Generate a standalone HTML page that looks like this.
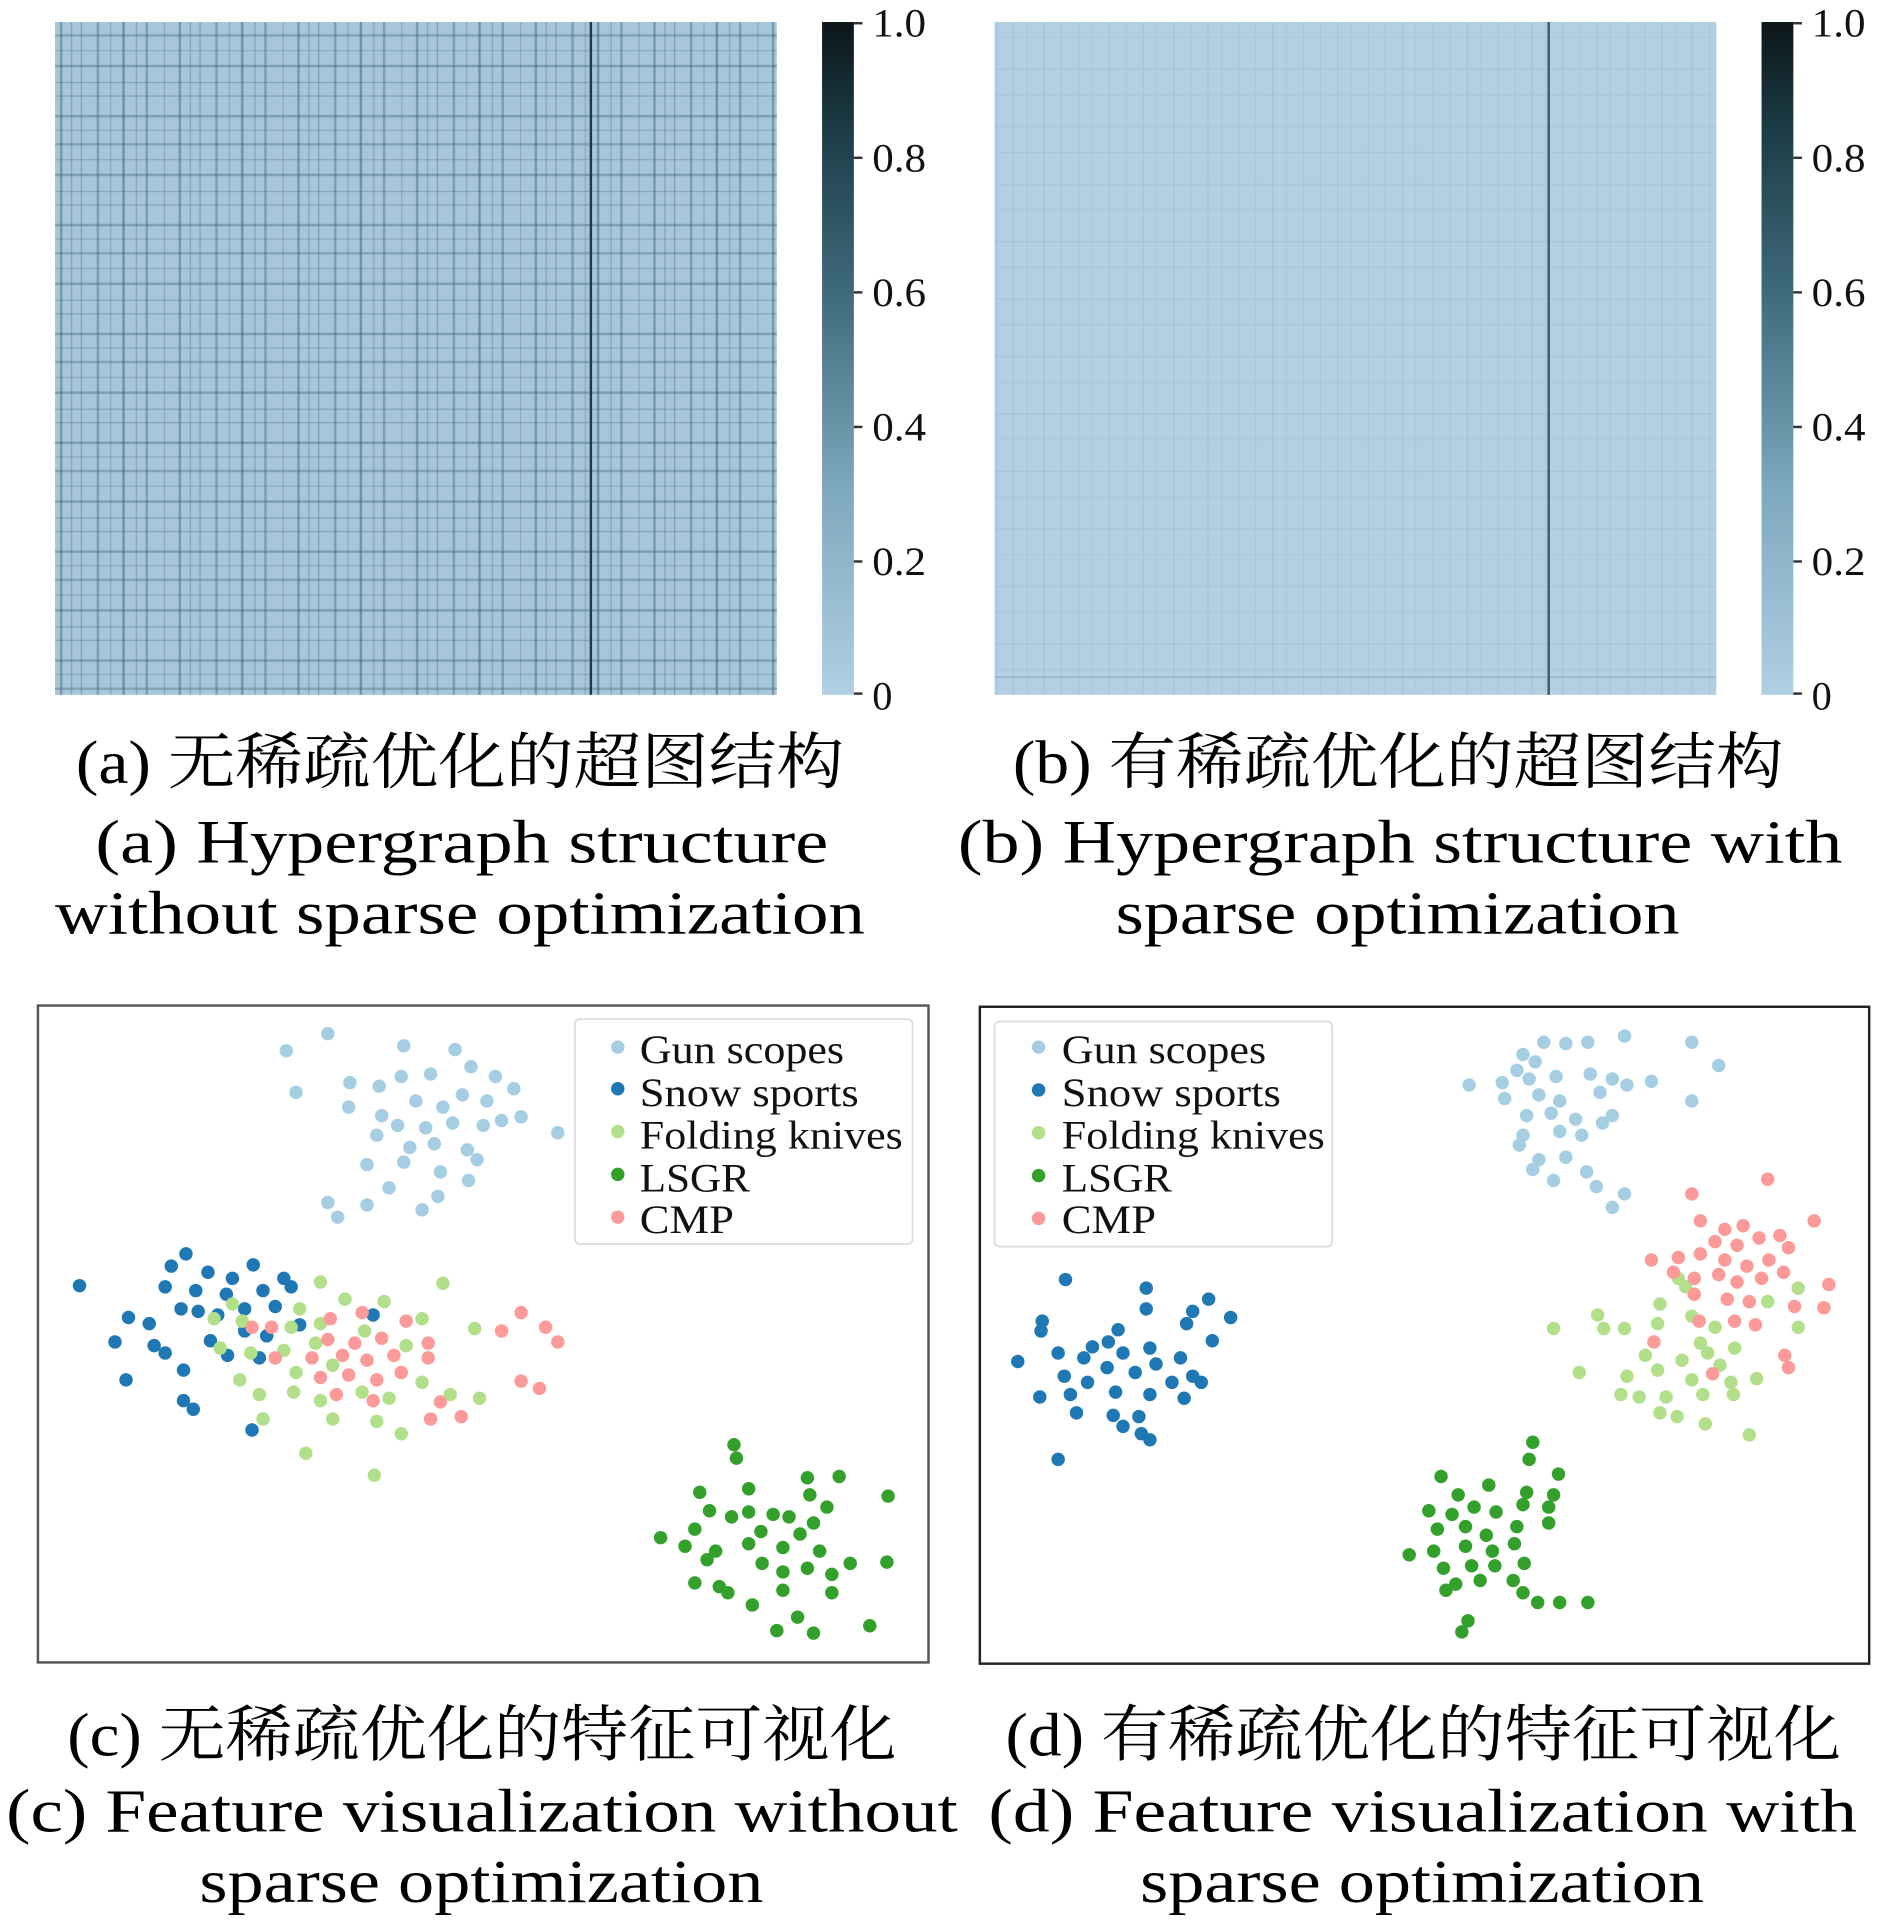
<!DOCTYPE html>
<html><head><meta charset="utf-8"><style>
html,body{margin:0;padding:0;background:#fff;}
svg{display:block}
.cap{font-family:"Liberation Serif","Noto Serif CJK SC",serif;font-size:50px;fill:#000}
.tk{font-family:"Liberation Serif",serif;font-size:33px;fill:#111}
.lg{font-family:"Liberation Serif",serif;font-size:33px;fill:#111}
</style></head><body>
<svg width="1890" height="1923" viewBox="0 0 1545 1572" xmlns="http://www.w3.org/2000/svg">
<defs>
<linearGradient id="cb" x1="0" y1="1" x2="0" y2="0">
<stop offset="0" stop-color="#b0cfe3"/><stop offset="0.3" stop-color="#7fa9be"/><stop offset="0.6" stop-color="#3e6a7b"/><stop offset="0.85" stop-color="#1b3a44"/><stop offset="1" stop-color="#0b1619"/>
</linearGradient>
<pattern id="pv" width="97" height="10" patternUnits="userSpaceOnUse">
<rect x="3" width="2" height="10" fill="#2f5263" opacity=".45"/><rect x="14" width="1" height="10" fill="#2f5263" opacity=".3"/><rect x="22" width="2" height="10" fill="#2f5263" opacity=".35"/><rect x="37" width="1" height="10" fill="#2f5263" opacity=".25"/><rect x="49" width="2" height="10" fill="#2f5263" opacity=".4"/><rect x="58" width="1" height="10" fill="#2f5263" opacity=".3"/><rect x="66" width="1" height="10" fill="#2f5263" opacity=".35"/><rect x="79" width="2" height="10" fill="#2f5263" opacity=".35"/><rect x="90" width="1" height="10" fill="#2f5263" opacity=".25"/>
</pattern>
<pattern id="ph" width="10" height="89" patternUnits="userSpaceOnUse">
<rect y="5" height="2" width="10" fill="#2f5263" opacity=".35"/><rect y="17" height="1" width="10" fill="#2f5263" opacity=".25"/><rect y="28" height="2" width="10" fill="#2f5263" opacity=".3"/><rect y="41" height="1" width="10" fill="#2f5263" opacity=".25"/><rect y="53" height="2" width="10" fill="#2f5263" opacity=".35"/><rect y="67" height="1" width="10" fill="#2f5263" opacity=".3"/><rect y="78" height="1" width="10" fill="#2f5263" opacity=".3"/>
</pattern>
<pattern id="pv2" width="53" height="10" patternUnits="userSpaceOnUse">
<rect x="5" width="1" height="10" fill="#6d8fa3" opacity=".2"/><rect x="19" width="1" height="10" fill="#6d8fa3" opacity=".15"/><rect x="33" width="1" height="10" fill="#6d8fa3" opacity=".2"/><rect x="44" width="1" height="10" fill="#6d8fa3" opacity=".12"/>
</pattern>
<pattern id="ph2" width="10" height="47" patternUnits="userSpaceOnUse">
<rect y="9" height="1" width="10" fill="#6d8fa3" opacity=".15"/><rect y="30" height="1" width="10" fill="#6d8fa3" opacity=".12"/>
</pattern>
</defs>
<!-- heatmap a -->
<rect x="45" y="18" width="590" height="550" fill="#a7c6d9"/>
<rect x="45" y="18" width="590" height="550" fill="url(#pv)"/>
<rect x="45" y="18" width="590" height="550" fill="url(#ph)"/>
<rect x="482" y="18" width="2" height="550" fill="#1e3a47"/>
<rect x="672" y="18" width="26" height="550" fill="url(#cb)"/>
<g stroke="#333" stroke-width="2"><line x1="698" y1="19" x2="705" y2="19"/><line x1="698" y1="129" x2="705" y2="129"/><line x1="698" y1="239" x2="705" y2="239"/><line x1="698" y1="349" x2="705" y2="349"/><line x1="698" y1="459" x2="705" y2="459"/><line x1="698" y1="567" x2="705" y2="567"/></g>
<g class="tk"><text x="713" y="30" textLength="44" lengthAdjust="spacingAndGlyphs">1.0</text><text x="713" y="140" textLength="44" lengthAdjust="spacingAndGlyphs">0.8</text><text x="713" y="250" textLength="44" lengthAdjust="spacingAndGlyphs">0.6</text><text x="713" y="360" textLength="44" lengthAdjust="spacingAndGlyphs">0.4</text><text x="713" y="470" textLength="44" lengthAdjust="spacingAndGlyphs">0.2</text><text x="713" y="580">0</text></g>
<!-- heatmap b -->
<rect x="813" y="18" width="590" height="550" fill="#b2d0e2"/>
<rect x="813" y="18" width="590" height="550" fill="url(#pv2)"/>
<rect x="813" y="18" width="590" height="550" fill="url(#ph2)"/>
<rect x="813" y="553" width="590" height="1" fill="#6d8fa3" opacity=".5"/>
<rect x="1265" y="18" width="2" height="550" fill="#3e5a66"/>
<rect x="1440" y="18" width="26" height="550" fill="url(#cb)"/>
<g stroke="#333" stroke-width="2"><line x1="1466" y1="19" x2="1473" y2="19"/><line x1="1466" y1="129" x2="1473" y2="129"/><line x1="1466" y1="239" x2="1473" y2="239"/><line x1="1466" y1="349" x2="1473" y2="349"/><line x1="1466" y1="459" x2="1473" y2="459"/><line x1="1466" y1="567" x2="1473" y2="567"/></g>
<g class="tk"><text x="1481" y="30" textLength="44" lengthAdjust="spacingAndGlyphs">1.0</text><text x="1481" y="140" textLength="44" lengthAdjust="spacingAndGlyphs">0.8</text><text x="1481" y="250" textLength="44" lengthAdjust="spacingAndGlyphs">0.6</text><text x="1481" y="360" textLength="44" lengthAdjust="spacingAndGlyphs">0.4</text><text x="1481" y="470" textLength="44" lengthAdjust="spacingAndGlyphs">0.2</text><text x="1481" y="580">0</text></g>
<!-- captions top -->
<text class="cap" x="62" y="640" textLength="628" lengthAdjust="spacingAndGlyphs">(a) 无稀疏优化的超图结构</text>
<text class="cap" x="78" y="705" textLength="599" lengthAdjust="spacingAndGlyphs">(a) Hypergraph structure</text>
<text class="cap" x="45" y="763" textLength="662" lengthAdjust="spacingAndGlyphs">without sparse optimization</text>
<text class="cap" x="828" y="640" textLength="630" lengthAdjust="spacingAndGlyphs">(b) 有稀疏优化的超图结构</text>
<text class="cap" x="783" y="705" textLength="723" lengthAdjust="spacingAndGlyphs">(b) Hypergraph structure with</text>
<text class="cap" x="912" y="763" textLength="461" lengthAdjust="spacingAndGlyphs">sparse optimization</text>
<!-- scatter c -->
<rect x="31" y="822" width="728" height="537" fill="#fff" stroke="#555" stroke-width="2"/>
<g fill="#a6cee3">
<circle cx="234" cy="859" r="5.5"/><circle cx="268" cy="845" r="5.5"/><circle cx="330" cy="855" r="5.5"/><circle cx="372" cy="858" r="5.5"/><circle cx="242" cy="893" r="5.5"/><circle cx="286" cy="885" r="5.5"/><circle cx="310" cy="888" r="5.5"/><circle cx="328" cy="880" r="5.5"/><circle cx="352" cy="878" r="5.5"/><circle cx="385" cy="872" r="5.5"/><circle cx="405" cy="880" r="5.5"/><circle cx="420" cy="890" r="5.5"/><circle cx="285" cy="905" r="5.5"/><circle cx="312" cy="912" r="5.5"/><circle cx="340" cy="900" r="5.5"/><circle cx="362" cy="905" r="5.5"/><circle cx="378" cy="895" r="5.5"/><circle cx="398" cy="900" r="5.5"/><circle cx="426" cy="913" r="5.5"/><circle cx="308" cy="928" r="5.5"/><circle cx="325" cy="920" r="5.5"/><circle cx="348" cy="922" r="5.5"/><circle cx="370" cy="918" r="5.5"/><circle cx="395" cy="920" r="5.5"/><circle cx="410" cy="916" r="5.5"/><circle cx="456" cy="926" r="5.5"/><circle cx="335" cy="938" r="5.5"/><circle cx="355" cy="935" r="5.5"/><circle cx="382" cy="940" r="5.5"/><circle cx="300" cy="952" r="5.5"/><circle cx="330" cy="950" r="5.5"/><circle cx="360" cy="958" r="5.5"/><circle cx="390" cy="948" r="5.5"/><circle cx="383" cy="965" r="5.5"/><circle cx="318" cy="971" r="5.5"/><circle cx="358" cy="978" r="5.5"/><circle cx="268" cy="983" r="5.5"/><circle cx="300" cy="985" r="5.5"/><circle cx="276" cy="995" r="5.5"/><circle cx="345" cy="989" r="5.5"/>
</g>
<g fill="#1f78b4">
<circle cx="65" cy="1051" r="5.5"/><circle cx="152" cy="1025" r="5.5"/><circle cx="140" cy="1035" r="5.5"/><circle cx="170" cy="1040" r="5.5"/><circle cx="190" cy="1045" r="5.5"/><circle cx="207" cy="1034" r="5.5"/><circle cx="232" cy="1045" r="5.5"/><circle cx="135" cy="1052" r="5.5"/><circle cx="160" cy="1055" r="5.5"/><circle cx="185" cy="1058" r="5.5"/><circle cx="215" cy="1055" r="5.5"/><circle cx="238" cy="1052" r="5.5"/><circle cx="148" cy="1070" r="5.5"/><circle cx="162" cy="1072" r="5.5"/><circle cx="178" cy="1075" r="5.5"/><circle cx="200" cy="1070" r="5.5"/><circle cx="225" cy="1068" r="5.5"/><circle cx="105" cy="1077" r="5.5"/><circle cx="122" cy="1082" r="5.5"/><circle cx="200" cy="1088" r="5.5"/><circle cx="218" cy="1092" r="5.5"/><circle cx="245" cy="1083" r="5.5"/><circle cx="94" cy="1097" r="5.5"/><circle cx="126" cy="1100" r="5.5"/><circle cx="172" cy="1096" r="5.5"/><circle cx="135" cy="1106" r="5.5"/><circle cx="186" cy="1108" r="5.5"/><circle cx="212" cy="1110" r="5.5"/><circle cx="150" cy="1120" r="5.5"/><circle cx="103" cy="1128" r="5.5"/><circle cx="150" cy="1145" r="5.5"/><circle cx="158" cy="1152" r="5.5"/><circle cx="206" cy="1169" r="5.5"/><circle cx="305" cy="1075" r="5.5"/>
</g>
<g fill="#b2df8a">
<circle cx="262" cy="1048" r="5.5"/><circle cx="362" cy="1049" r="5.5"/><circle cx="190" cy="1066" r="5.5"/><circle cx="245" cy="1070" r="5.5"/><circle cx="282" cy="1062" r="5.5"/><circle cx="314" cy="1064" r="5.5"/><circle cx="175" cy="1078" r="5.5"/><circle cx="198" cy="1080" r="5.5"/><circle cx="238" cy="1085" r="5.5"/><circle cx="262" cy="1082" r="5.5"/><circle cx="298" cy="1088" r="5.5"/><circle cx="345" cy="1078" r="5.5"/><circle cx="388" cy="1086" r="5.5"/><circle cx="180" cy="1102" r="5.5"/><circle cx="205" cy="1106" r="5.5"/><circle cx="232" cy="1104" r="5.5"/><circle cx="258" cy="1098" r="5.5"/><circle cx="332" cy="1100" r="5.5"/><circle cx="196" cy="1128" r="5.5"/><circle cx="242" cy="1122" r="5.5"/><circle cx="272" cy="1116" r="5.5"/><circle cx="345" cy="1130" r="5.5"/><circle cx="212" cy="1140" r="5.5"/><circle cx="240" cy="1138" r="5.5"/><circle cx="262" cy="1145" r="5.5"/><circle cx="296" cy="1138" r="5.5"/><circle cx="318" cy="1143" r="5.5"/><circle cx="368" cy="1140" r="5.5"/><circle cx="392" cy="1143" r="5.5"/><circle cx="215" cy="1160" r="5.5"/><circle cx="272" cy="1160" r="5.5"/><circle cx="308" cy="1162" r="5.5"/><circle cx="328" cy="1172" r="5.5"/><circle cx="250" cy="1188" r="5.5"/><circle cx="306" cy="1206" r="5.5"/>
</g>
<g fill="#fb9a99">
<circle cx="426" cy="1073" r="5.5"/><circle cx="206" cy="1085" r="5.5"/><circle cx="222" cy="1085" r="5.5"/><circle cx="270" cy="1078" r="5.5"/><circle cx="296" cy="1073" r="5.5"/><circle cx="332" cy="1080" r="5.5"/><circle cx="410" cy="1088" r="5.5"/><circle cx="446" cy="1085" r="5.5"/><circle cx="268" cy="1095" r="5.5"/><circle cx="290" cy="1098" r="5.5"/><circle cx="312" cy="1094" r="5.5"/><circle cx="350" cy="1098" r="5.5"/><circle cx="456" cy="1097" r="5.5"/><circle cx="255" cy="1110" r="5.5"/><circle cx="280" cy="1108" r="5.5"/><circle cx="300" cy="1112" r="5.5"/><circle cx="322" cy="1108" r="5.5"/><circle cx="350" cy="1110" r="5.5"/><circle cx="262" cy="1126" r="5.5"/><circle cx="285" cy="1124" r="5.5"/><circle cx="308" cy="1128" r="5.5"/><circle cx="328" cy="1122" r="5.5"/><circle cx="275" cy="1140" r="5.5"/><circle cx="305" cy="1145" r="5.5"/><circle cx="360" cy="1146" r="5.5"/><circle cx="426" cy="1129" r="5.5"/><circle cx="441" cy="1135" r="5.5"/><circle cx="352" cy="1160" r="5.5"/><circle cx="377" cy="1158" r="5.5"/><circle cx="225" cy="1110" r="5.5"/>
</g>
<g fill="#33a02c">
<circle cx="600" cy="1181" r="5.5"/><circle cx="602" cy="1192" r="5.5"/><circle cx="660" cy="1208" r="5.5"/><circle cx="686" cy="1207" r="5.5"/><circle cx="572" cy="1220" r="5.5"/><circle cx="612" cy="1217" r="5.5"/><circle cx="662" cy="1222" r="5.5"/><circle cx="726" cy="1223" r="5.5"/><circle cx="580" cy="1235" r="5.5"/><circle cx="598" cy="1240" r="5.5"/><circle cx="612" cy="1236" r="5.5"/><circle cx="632" cy="1238" r="5.5"/><circle cx="645" cy="1240" r="5.5"/><circle cx="676" cy="1232" r="5.5"/><circle cx="568" cy="1250" r="5.5"/><circle cx="622" cy="1252" r="5.5"/><circle cx="654" cy="1254" r="5.5"/><circle cx="665" cy="1245" r="5.5"/><circle cx="540" cy="1257" r="5.5"/><circle cx="560" cy="1264" r="5.5"/><circle cx="585" cy="1268" r="5.5"/><circle cx="612" cy="1262" r="5.5"/><circle cx="640" cy="1265" r="5.5"/><circle cx="670" cy="1268" r="5.5"/><circle cx="578" cy="1275" r="5.5"/><circle cx="623" cy="1278" r="5.5"/><circle cx="640" cy="1285" r="5.5"/><circle cx="660" cy="1282" r="5.5"/><circle cx="680" cy="1287" r="5.5"/><circle cx="695" cy="1278" r="5.5"/><circle cx="725" cy="1277" r="5.5"/><circle cx="568" cy="1294" r="5.5"/><circle cx="588" cy="1297" r="5.5"/><circle cx="595" cy="1302" r="5.5"/><circle cx="640" cy="1300" r="5.5"/><circle cx="680" cy="1302" r="5.5"/><circle cx="615" cy="1312" r="5.5"/><circle cx="652" cy="1322" r="5.5"/><circle cx="635" cy="1333" r="5.5"/><circle cx="665" cy="1335" r="5.5"/><circle cx="711" cy="1329" r="5.5"/>
</g>
<rect x="470" y="833" width="276" height="184" rx="4" fill="#fff" fill-opacity=".85" stroke="#ddd" stroke-width="1.5"/>
<circle cx="505" cy="856" r="5.5" fill="#a6cee3"/><circle cx="505" cy="890" r="5.5" fill="#1f78b4"/><circle cx="505" cy="925" r="5.5" fill="#b2df8a"/><circle cx="505" cy="960" r="5.5" fill="#33a02c"/><circle cx="505" cy="995" r="5.5" fill="#fb9a99"/>
<g class="lg"><text x="523" y="869" textLength="167" lengthAdjust="spacingAndGlyphs">Gun scopes</text><text x="523" y="904" textLength="179" lengthAdjust="spacingAndGlyphs">Snow sports</text><text x="523" y="939" textLength="215" lengthAdjust="spacingAndGlyphs">Folding knives</text><text x="523" y="974" textLength="90" lengthAdjust="spacingAndGlyphs">LSGR</text><text x="523" y="1008" textLength="77" lengthAdjust="spacingAndGlyphs">CMP</text></g>
<!-- scatter d -->
<rect x="801" y="823" width="727" height="537" fill="#fff" stroke="#222" stroke-width="2"/>
<g fill="#a6cee3">
<circle cx="1328" cy="847" r="5.5"/><circle cx="1383" cy="852" r="5.5"/><circle cx="1245" cy="862" r="5.5"/><circle cx="1262" cy="852" r="5.5"/><circle cx="1280" cy="853" r="5.5"/><circle cx="1298" cy="852" r="5.5"/><circle cx="1240" cy="875" r="5.5"/><circle cx="1255" cy="868" r="5.5"/><circle cx="1405" cy="871" r="5.5"/><circle cx="1201" cy="887" r="5.5"/><circle cx="1228" cy="885" r="5.5"/><circle cx="1250" cy="882" r="5.5"/><circle cx="1272" cy="880" r="5.5"/><circle cx="1300" cy="878" r="5.5"/><circle cx="1318" cy="882" r="5.5"/><circle cx="1350" cy="884" r="5.5"/><circle cx="1230" cy="898" r="5.5"/><circle cx="1258" cy="895" r="5.5"/><circle cx="1275" cy="900" r="5.5"/><circle cx="1308" cy="893" r="5.5"/><circle cx="1330" cy="887" r="5.5"/><circle cx="1383" cy="900" r="5.5"/><circle cx="1248" cy="912" r="5.5"/><circle cx="1268" cy="910" r="5.5"/><circle cx="1288" cy="915" r="5.5"/><circle cx="1318" cy="912" r="5.5"/><circle cx="1245" cy="928" r="5.5"/><circle cx="1275" cy="925" r="5.5"/><circle cx="1293" cy="928" r="5.5"/><circle cx="1310" cy="918" r="5.5"/><circle cx="1242" cy="936" r="5.5"/><circle cx="1258" cy="948" r="5.5"/><circle cx="1280" cy="946" r="5.5"/><circle cx="1253" cy="956" r="5.5"/><circle cx="1270" cy="965" r="5.5"/><circle cx="1297" cy="958" r="5.5"/><circle cx="1305" cy="970" r="5.5"/><circle cx="1328" cy="976" r="5.5"/><circle cx="1318" cy="987" r="5.5"/>
</g>
<g fill="#1f78b4">
<circle cx="871" cy="1046" r="5.5"/><circle cx="937" cy="1053" r="5.5"/><circle cx="852" cy="1080" r="5.5"/><circle cx="937" cy="1070" r="5.5"/><circle cx="988" cy="1062" r="5.5"/><circle cx="975" cy="1072" r="5.5"/><circle cx="1006" cy="1077" r="5.5"/><circle cx="851" cy="1088" r="5.5"/><circle cx="914" cy="1087" r="5.5"/><circle cx="970" cy="1082" r="5.5"/><circle cx="991" cy="1096" r="5.5"/><circle cx="893" cy="1101" r="5.5"/><circle cx="906" cy="1097" r="5.5"/><circle cx="918" cy="1106" r="5.5"/><circle cx="940" cy="1102" r="5.5"/><circle cx="865" cy="1106" r="5.5"/><circle cx="886" cy="1110" r="5.5"/><circle cx="832" cy="1113" r="5.5"/><circle cx="905" cy="1118" r="5.5"/><circle cx="928" cy="1122" r="5.5"/><circle cx="945" cy="1115" r="5.5"/><circle cx="965" cy="1110" r="5.5"/><circle cx="975" cy="1125" r="5.5"/><circle cx="870" cy="1125" r="5.5"/><circle cx="889" cy="1130" r="5.5"/><circle cx="958" cy="1130" r="5.5"/><circle cx="982" cy="1130" r="5.5"/><circle cx="850" cy="1142" r="5.5"/><circle cx="875" cy="1140" r="5.5"/><circle cx="912" cy="1138" r="5.5"/><circle cx="940" cy="1140" r="5.5"/><circle cx="968" cy="1143" r="5.5"/><circle cx="880" cy="1155" r="5.5"/><circle cx="910" cy="1157" r="5.5"/><circle cx="931" cy="1158" r="5.5"/><circle cx="918" cy="1166" r="5.5"/><circle cx="933" cy="1172" r="5.5"/><circle cx="940" cy="1177" r="5.5"/><circle cx="865" cy="1193" r="5.5"/>
</g>
<g fill="#b2df8a">
<circle cx="1372" cy="1045" r="5.5"/><circle cx="1378" cy="1052" r="5.5"/><circle cx="1357" cy="1066" r="5.5"/><circle cx="1470" cy="1053" r="5.5"/><circle cx="1445" cy="1064" r="5.5"/><circle cx="1306" cy="1075" r="5.5"/><circle cx="1355" cy="1082" r="5.5"/><circle cx="1383" cy="1076" r="5.5"/><circle cx="1402" cy="1085" r="5.5"/><circle cx="1270" cy="1086" r="5.5"/><circle cx="1311" cy="1086" r="5.5"/><circle cx="1328" cy="1086" r="5.5"/><circle cx="1390" cy="1098" r="5.5"/><circle cx="1418" cy="1102" r="5.5"/><circle cx="1345" cy="1108" r="5.5"/><circle cx="1375" cy="1112" r="5.5"/><circle cx="1396" cy="1106" r="5.5"/><circle cx="1406" cy="1116" r="5.5"/><circle cx="1291" cy="1122" r="5.5"/><circle cx="1330" cy="1125" r="5.5"/><circle cx="1355" cy="1120" r="5.5"/><circle cx="1383" cy="1128" r="5.5"/><circle cx="1415" cy="1130" r="5.5"/><circle cx="1436" cy="1127" r="5.5"/><circle cx="1325" cy="1140" r="5.5"/><circle cx="1362" cy="1142" r="5.5"/><circle cx="1392" cy="1140" r="5.5"/><circle cx="1417" cy="1140" r="5.5"/><circle cx="1357" cy="1155" r="5.5"/><circle cx="1371" cy="1158" r="5.5"/><circle cx="1394" cy="1164" r="5.5"/><circle cx="1430" cy="1173" r="5.5"/><circle cx="1340" cy="1142" r="5.5"/><circle cx="1470" cy="1085" r="5.5"/>
</g>
<g fill="#fb9a99">
<circle cx="1383" cy="976" r="5.5"/><circle cx="1445" cy="964" r="5.5"/><circle cx="1390" cy="998" r="5.5"/><circle cx="1410" cy="1005" r="5.5"/><circle cx="1425" cy="1002" r="5.5"/><circle cx="1483" cy="998" r="5.5"/><circle cx="1402" cy="1015" r="5.5"/><circle cx="1420" cy="1018" r="5.5"/><circle cx="1438" cy="1012" r="5.5"/><circle cx="1455" cy="1010" r="5.5"/><circle cx="1350" cy="1030" r="5.5"/><circle cx="1372" cy="1028" r="5.5"/><circle cx="1390" cy="1025" r="5.5"/><circle cx="1410" cy="1030" r="5.5"/><circle cx="1428" cy="1035" r="5.5"/><circle cx="1446" cy="1030" r="5.5"/><circle cx="1462" cy="1020" r="5.5"/><circle cx="1368" cy="1040" r="5.5"/><circle cx="1385" cy="1045" r="5.5"/><circle cx="1405" cy="1042" r="5.5"/><circle cx="1420" cy="1048" r="5.5"/><circle cx="1440" cy="1045" r="5.5"/><circle cx="1458" cy="1040" r="5.5"/><circle cx="1495" cy="1050" r="5.5"/><circle cx="1385" cy="1058" r="5.5"/><circle cx="1412" cy="1062" r="5.5"/><circle cx="1430" cy="1064" r="5.5"/><circle cx="1467" cy="1068" r="5.5"/><circle cx="1491" cy="1069" r="5.5"/><circle cx="1418" cy="1080" r="5.5"/><circle cx="1435" cy="1083" r="5.5"/><circle cx="1389" cy="1080" r="5.5"/><circle cx="1459" cy="1108" r="5.5"/><circle cx="1462" cy="1118" r="5.5"/><circle cx="1400" cy="1123" r="5.5"/><circle cx="1352" cy="1097" r="5.5"/>
</g>
<g fill="#33a02c">
<circle cx="1253" cy="1179" r="5.5"/><circle cx="1250" cy="1193" r="5.5"/><circle cx="1178" cy="1207" r="5.5"/><circle cx="1274" cy="1205" r="5.5"/><circle cx="1217" cy="1214" r="5.5"/><circle cx="1248" cy="1220" r="5.5"/><circle cx="1192" cy="1222" r="5.5"/><circle cx="1168" cy="1235" r="5.5"/><circle cx="1187" cy="1238" r="5.5"/><circle cx="1205" cy="1232" r="5.5"/><circle cx="1223" cy="1236" r="5.5"/><circle cx="1245" cy="1230" r="5.5"/><circle cx="1266" cy="1232" r="5.5"/><circle cx="1270" cy="1222" r="5.5"/><circle cx="1175" cy="1250" r="5.5"/><circle cx="1198" cy="1248" r="5.5"/><circle cx="1215" cy="1255" r="5.5"/><circle cx="1240" cy="1248" r="5.5"/><circle cx="1266" cy="1245" r="5.5"/><circle cx="1152" cy="1271" r="5.5"/><circle cx="1172" cy="1268" r="5.5"/><circle cx="1198" cy="1264" r="5.5"/><circle cx="1220" cy="1268" r="5.5"/><circle cx="1238" cy="1262" r="5.5"/><circle cx="1180" cy="1282" r="5.5"/><circle cx="1203" cy="1280" r="5.5"/><circle cx="1222" cy="1280" r="5.5"/><circle cx="1246" cy="1278" r="5.5"/><circle cx="1190" cy="1295" r="5.5"/><circle cx="1210" cy="1292" r="5.5"/><circle cx="1237" cy="1292" r="5.5"/><circle cx="1182" cy="1300" r="5.5"/><circle cx="1245" cy="1302" r="5.5"/><circle cx="1257" cy="1310" r="5.5"/><circle cx="1275" cy="1310" r="5.5"/><circle cx="1298" cy="1310" r="5.5"/><circle cx="1200" cy="1325" r="5.5"/><circle cx="1195" cy="1334" r="5.5"/>
</g>
<rect x="813" y="835" width="276" height="184" rx="4" fill="#fff" fill-opacity=".85" stroke="#ddd" stroke-width="1.5"/>
<circle cx="849" cy="856" r="5.5" fill="#a6cee3"/><circle cx="849" cy="891" r="5.5" fill="#1f78b4"/><circle cx="849" cy="926" r="5.5" fill="#b2df8a"/><circle cx="849" cy="961" r="5.5" fill="#33a02c"/><circle cx="849" cy="996" r="5.5" fill="#fb9a99"/>
<g class="lg"><text x="868" y="869" textLength="167" lengthAdjust="spacingAndGlyphs">Gun scopes</text><text x="868" y="904" textLength="179" lengthAdjust="spacingAndGlyphs">Snow sports</text><text x="868" y="939" textLength="215" lengthAdjust="spacingAndGlyphs">Folding knives</text><text x="868" y="974" textLength="90" lengthAdjust="spacingAndGlyphs">LSGR</text><text x="868" y="1008" textLength="77" lengthAdjust="spacingAndGlyphs">CMP</text></g>
<!-- captions bottom -->
<text class="cap" x="55" y="1435" textLength="678" lengthAdjust="spacingAndGlyphs">(c) 无稀疏优化的特征可视化</text>
<text class="cap" x="5" y="1497" textLength="778" lengthAdjust="spacingAndGlyphs">(c) Feature visualization without</text>
<text class="cap" x="163" y="1555" textLength="461" lengthAdjust="spacingAndGlyphs">sparse optimization</text>
<text class="cap" x="822" y="1435" textLength="683" lengthAdjust="spacingAndGlyphs">(d) 有稀疏优化的特征可视化</text>
<text class="cap" x="808" y="1497" textLength="710" lengthAdjust="spacingAndGlyphs">(d) Feature visualization with</text>
<text class="cap" x="932" y="1555" textLength="461" lengthAdjust="spacingAndGlyphs">sparse optimization</text>
</svg>
</body></html>
